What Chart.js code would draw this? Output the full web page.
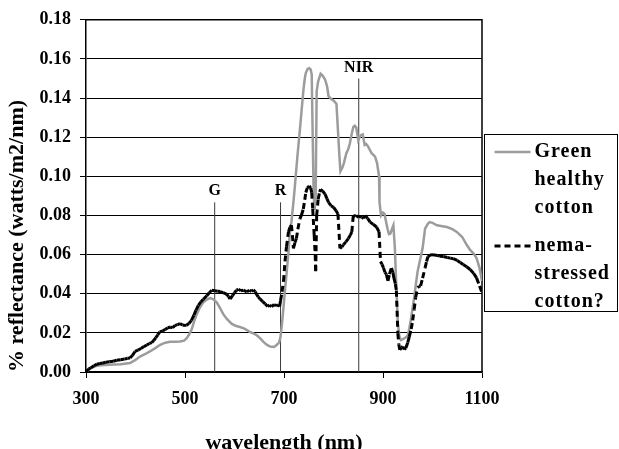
<!DOCTYPE html>
<html><head><meta charset="utf-8">
<script src="https://cdn.jsdelivr.net/npm/chart.js@4"></script>
<style>html,body{margin:0;padding:0;background:#fff}</style>
</head><body>
<canvas id="c" width="619" height="449"></canvas>
<script>
// ---- data ----
const healthyWavelength = [300,310,320,330,340,355,370,389,400,409,420,429,440,449,460,470,480,490,498,503,508,513,518,524,530,537,544,551,557,564,570,577,585,594,602,611,620,631,640,645,652,658,665,672,680,685,690,693,696,699,702,705,709,712,715,719,722,727,732,736,739,742,744,748,751,754,756,758,760,762,764,766,769,774,778,783,787,790,796,801,806,809,812,814,818,821,826,830,833,837,840,843,846,850,853,855,859,863,866,870,877,884,888,892,893,896,900,903,906,909,912,915,918,921,924,927,930,933,936,940,943,947,950,953,956,960,963,967,970,975,980,985,990,994,1000,1009,1020,1029,1040,1049,1060,1069,1076,1083,1089,1095,1100];
const healthyReflectance = [0.000,0.002,0.003,0.0035,0.0036,0.0038,0.0040,0.0046,0.0062,0.0079,0.0092,0.0105,0.0122,0.0138,0.0150,0.0155,0.0154,0.0156,0.0160,0.0172,0.0190,0.0214,0.0255,0.0297,0.0330,0.0356,0.0370,0.0378,0.0372,0.0356,0.0330,0.0297,0.0270,0.0247,0.0236,0.0230,0.0222,0.0205,0.0195,0.0188,0.0172,0.0155,0.0140,0.0130,0.0128,0.0138,0.0150,0.0180,0.0250,0.0330,0.0420,0.0498,0.0610,0.0716,0.0766,0.0867,0.0950,0.1100,0.1235,0.1350,0.1436,0.1500,0.1528,0.1550,0.1553,0.1545,0.1520,0.1200,0.0900,0.0830,0.0900,0.1436,0.1486,0.1524,0.1515,0.1495,0.1460,0.1410,0.1394,0.1385,0.1370,0.1235,0.1100,0.1026,0.1045,0.1068,0.1118,0.1140,0.1168,0.1220,0.1252,0.1258,0.1249,0.1185,0.1200,0.1210,0.1214,0.1160,0.1165,0.1152,0.1118,0.1101,0.1068,0.1001,0.0867,0.0800,0.0815,0.0808,0.0770,0.0733,0.0705,0.0708,0.0730,0.0750,0.0632,0.0431,0.0247,0.0185,0.0163,0.0168,0.0172,0.0178,0.0188,0.0220,0.0264,0.0330,0.0381,0.0460,0.0515,0.0574,0.0632,0.0733,0.0755,0.0766,0.0762,0.0750,0.0745,0.0741,0.0730,0.0716,0.0690,0.0650,0.0624,0.0605,0.0582,0.0532,0.0465];

const stressedWavelength = [300,305,310,316,322,328,334,340,347,355,362,370,378,384,389,394,399,405,411,417,423,428,433,437,441,445,449,455,460,465,470,475,480,485,490,495,500,503,508,513,518,522,527,532,537,544,549,554,560,566,571,577,584,588,591,596,600,604,608,613,618,625,630,634,638,642,645,648,652,657,662,667,671,675,680,684,688,691,693,696,699,702,705,709,712,715,717,719,722,725,728,732,735,739,742,744,747,751,754,756,758,761,763,764,766,769,772,774,778,783,787,790,795,800,805,809,813,817,820,825,830,834,837,840,844,847,851,854,857,861,864,869,874,880,887,892,895,898,901,904,907,910,913,917,920,922,925,927,930,932,934,937,940,943,946,950,953,957,960,963,966,970,973,976,980,985,988,991,995,1001,1010,1015,1022,1030,1036,1042,1050,1056,1062,1069,1076,1083,1089,1095,1100];
const stressedReflectance = [0.000,0.0015,0.0022,0.0032,0.0040,0.0043,0.0046,0.0050,0.0052,0.0055,0.0060,0.0063,0.0066,0.0070,0.0071,0.0085,0.0105,0.0112,0.0120,0.0130,0.0138,0.0146,0.0150,0.0162,0.0175,0.0190,0.0205,0.0210,0.0218,0.0225,0.0230,0.0226,0.0238,0.0242,0.0247,0.0240,0.0238,0.0239,0.0248,0.0264,0.0290,0.0315,0.0340,0.0358,0.0372,0.0390,0.0405,0.0418,0.0415,0.0413,0.0411,0.0406,0.0398,0.0385,0.0373,0.0390,0.0405,0.0418,0.0423,0.0415,0.0418,0.0410,0.0418,0.0412,0.0420,0.0410,0.0395,0.0384,0.0372,0.0360,0.0348,0.0335,0.0342,0.0334,0.0345,0.0338,0.0344,0.0335,0.0364,0.0410,0.0465,0.0565,0.0640,0.0716,0.0740,0.0750,0.0700,0.0632,0.0660,0.0682,0.0730,0.0783,0.0800,0.0833,0.0880,0.0917,0.0940,0.0951,0.0940,0.0917,0.0833,0.0700,0.0600,0.0515,0.0800,0.0883,0.0920,0.0934,0.0925,0.0909,0.0885,0.0867,0.0850,0.0842,0.0825,0.0808,0.0632,0.0640,0.0650,0.0665,0.0682,0.0700,0.0716,0.0800,0.0795,0.0800,0.0790,0.0797,0.0791,0.0785,0.0800,0.0785,0.0766,0.0755,0.0741,0.0716,0.0565,0.0550,0.0532,0.0510,0.0498,0.0465,0.0500,0.0532,0.0510,0.0481,0.0450,0.0415,0.0197,0.0140,0.0113,0.0125,0.0130,0.0115,0.0122,0.0150,0.0180,0.0220,0.0264,0.0320,0.0381,0.0431,0.0438,0.0440,0.0480,0.0532,0.0565,0.0590,0.0598,0.0599,0.0595,0.0592,0.0590,0.0585,0.0582,0.0579,0.0570,0.0560,0.0549,0.0538,0.0524,0.0505,0.0481,0.0440,0.0406];

const healthyLabel = ['Green', 'healthy', 'cotton'];
const stressedLabel = ['nema-', 'stressed', 'cotton?'];
const bandNames = ['G', 'R', 'NIR'];
const bandWavelength = [560, 693, 851];
const bandLineTop = [0.0867, 0.0867, 0.150];
const xAxisTitle = 'wavelength (nm)';
const yAxisTitle = '% reflectance (watts/m2/nm)';

// ---- chart ----
const SERIF = '"Liberation Serif", "Times New Roman", serif';
const GRAY = '#9c9c9c';

const toPoints = (xs, ys) => xs.map((x, i) => ({x: x, y: ys[i]}));

const datasets = [
  {
    label: stressedLabel.join(' '),
    data: toPoints(stressedWavelength, stressedReflectance),
    borderColor: '#000', borderWidth: 3, borderDash: [6, 4],
    borderCapStyle: 'butt', pointRadius: 0, tension: 0, fill: false,
    segment: { borderDashOffset: c => (c.p0DataIndex % 2) ? 0.01 : 0 }
  },
  {
    label: healthyLabel.join(' '),
    data: toPoints(healthyWavelength, healthyReflectance),
    borderColor: GRAY, borderWidth: 2.5, pointRadius: 0, tension: 0, fill: false
  }
];
bandNames.forEach((name, i) => {
  datasets.push({
    label: name, band: true,
    data: [{x: bandWavelength[i], y: 0}, {x: bandWavelength[i], y: bandLineTop[i]}],
    borderColor: '#3a3a3a', borderWidth: 1, pointRadius: 0, fill: false
  });
});

const framePlugin = {
  id: 'frame',
  beforeDatasetsDraw(chart) {
    const {ctx, chartArea: a} = chart;
    ctx.save();
    ctx.strokeStyle = '#000';
    ctx.lineWidth = 1.5;
    ctx.beginPath();
    ctx.moveTo(a.left, a.top); ctx.lineTo(a.right, a.top); ctx.lineTo(a.right, a.bottom);
    ctx.stroke();
    ctx.restore();
  }
};

const bandLabelPlugin = {
  id: 'bandLabels',
  afterDatasetsDraw(chart) {
    const ctx = chart.ctx;
    ctx.save();
    ctx.font = 'bold 16px ' + SERIF;
    ctx.fillStyle = '#000';
    ctx.textAlign = 'center';
    ctx.textBaseline = 'middle';
    chart.data.datasets.forEach((ds, i) => {
      if (!ds.band) return;
      const top = chart.getDatasetMeta(i).data[1];
      ctx.fillText(ds.label, top.x, top.y - 11);
    });
    ctx.restore();
  }
};

const boxLegendPlugin = {
  id: 'boxLegend',
  afterDraw(chart) {
    const {ctx, chartArea: a} = chart;
    const left = Math.round(a.right) + 2.5;
    const top = 134.5;
    const w = 133, h = 177;
    ctx.save();
    ctx.fillStyle = '#fff';
    ctx.fillRect(left, top, w, h);
    ctx.strokeStyle = '#000';
    ctx.lineWidth = 1;
    ctx.strokeRect(left, top, w, h);
    ctx.font = 'bold 20px ' + SERIF;
    ctx.fillStyle = '#000';
    ctx.textAlign = 'left';
    ctx.textBaseline = 'middle';
    try { ctx.letterSpacing = '1px'; } catch (e) {}
    const entries = [
      {lines: healthyLabel, color: GRAY, width: 2.5, dash: [], y: top + 17.5},
      {lines: stressedLabel, color: '#000', width: 3, dash: [6, 4], y: top + 111.5}
    ];
    entries.forEach(en => {
      ctx.save();
      ctx.strokeStyle = en.color;
      ctx.lineWidth = en.width;
      ctx.setLineDash(en.dash);
      ctx.beginPath();
      ctx.moveTo(left + 10, en.y);
      ctx.lineTo(left + 46, en.y);
      ctx.stroke();
      ctx.restore();
      en.lines.forEach((t, k) => ctx.fillText(t, left + 50, en.y + k * 27.8));
    });
    ctx.restore();
  }
};

new Chart(document.getElementById('c'), {
  type: 'line',
  data: { datasets: datasets },
  options: {
    responsive: false,
    animation: false,
    devicePixelRatio: 1,
    layout: { padding: { top: 14, right: 137, left: 0, bottom: 0 } },
    plugins: { legend: { display: false }, tooltip: { enabled: false } },
    scales: {
      x: {
        type: 'linear', min: 300, max: 1100,
        ticks: { stepSize: 200, color: '#000', padding: 11, font: { family: SERIF, size: 18, weight: 'bold' },
                 callback: v => String(v) },
        grid: { drawOnChartArea: false, drawTicks: true, tickLength: 6, color: '#000' },
        border: { color: '#000', width: 1.5 },
        title: { display: true, text: xAxisTitle, color: '#000', font: { family: SERIF, size: 22, weight: 'bold' }, padding: { top: 0, bottom: -8 } },
        afterFit: s => { s.height = 77; }
      },
      y: {
        min: 0, max: 0.18,
        ticks: { stepSize: 0.02, color: '#000', padding: 9, font: { family: SERIF, size: 18, weight: 'bold' },
                 callback: v => Number(v).toFixed(2) },
        grid: { color: '#000', lineWidth: 1, tickLength: 6 },
        border: { color: '#000', width: 1.5 },
        title: { display: true, align: 'start', text: yAxisTitle, color: '#000', font: { family: SERIF, size: 22, weight: 'bold' }, padding: { top: 4, bottom: 0 } },
        afterFit: s => { s.width = 86; }
      }
    }
  },
  plugins: [framePlugin, bandLabelPlugin, boxLegendPlugin]
});
</script>
</body></html>
